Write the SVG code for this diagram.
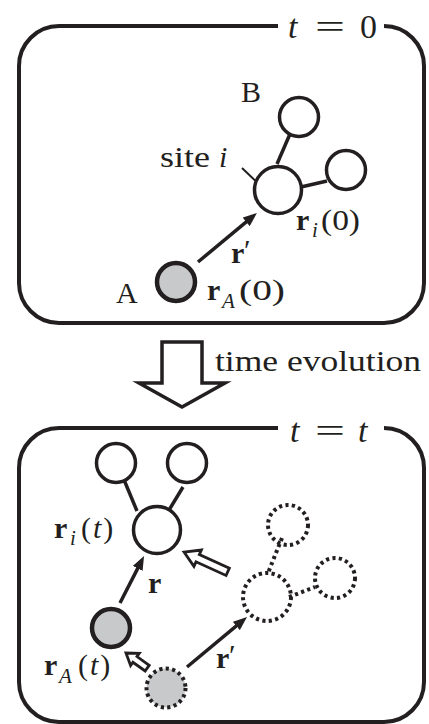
<svg xmlns="http://www.w3.org/2000/svg" width="429" height="724" viewBox="0 0 429 724">
<style>
.box{fill:none;stroke:#231f20;stroke-width:4}
.c{fill:#fff;stroke:#231f20;stroke-width:3.5}
.g{fill:#c8c9cb;stroke:#231f20;stroke-width:4.5}
.d{fill:none;stroke:#231f20;stroke-width:4;stroke-dasharray:3.2 3.3}
.dg{fill:#c8c9cb;stroke:#231f20;stroke-width:4;stroke-dasharray:3.2 3.3}
.b{stroke:#231f20;stroke-width:3.5;fill:none}
.bd{stroke:#231f20;stroke-width:4;fill:none;stroke-dasharray:3.2 3.3}
.ar{stroke:#231f20;stroke-width:3.5;fill:none;marker-end:url(#ah)}
.ha{fill:#fff;stroke:#231f20;stroke-width:2.8;stroke-linejoin:miter}
text{font-family:"Liberation Serif","Times New Roman",serif;fill:#231f20;font-size:30px}
.bf{font-weight:bold}
.it{font-style:italic}
.sub{font-size:21px;font-style:italic}
.big{font-size:34px}
.pr{font-size:30px}
</style>
<defs>
<marker id="ah" viewBox="0 0 14 11" refX="6" refY="5.5" markerWidth="14" markerHeight="11" markerUnits="userSpaceOnUse" orient="auto">
<path d="M0,0 L14,5.5 L0,11 z" fill="#231f20"/>
</marker>
</defs>

<g id="frame-t0">
<path class="box" d="M278,26 H59 A40,40 0 0 0 19,66 V283 A40,40 0 0 0 59,323 H384 A40,40 0 0 0 424,283 V66 A40,40 0 0 0 384,26"/>
<text class="big it" x="288" y="38">t</text>
<text class="big" x="315" y="38" textLength="30" lengthAdjust="spacingAndGlyphs">=</text>
<text class="big" x="360" y="38">0</text>
</g>

<g id="frame-tt">
<path class="box" d="M278,428 H59 A40,40 0 0 0 19,468 V682 A40,40 0 0 0 59,722 H384 A40,40 0 0 0 424,682 V468 A40,40 0 0 0 384,428"/>
<text class="big it" x="290" y="442">t</text>
<text class="big" x="315" y="442" textLength="30" lengthAdjust="spacingAndGlyphs">=</text>
<text class="big it" x="358" y="442">t</text>
</g>

<g id="connectors">
<line class="b" x1="293" y1="127" x2="277" y2="164"/>
<line class="b" x1="288" y1="190" x2="327" y2="181"/>
<line style="stroke:#231f20;stroke-width:2" x1="242" y1="168" x2="263" y2="188"/>
<line class="ar" x1="198" y1="262" x2="250.8" y2="218.1"/>
<line class="b" x1="122" y1="475" x2="137" y2="511"/>
<line class="b" x1="183" y1="487" x2="163" y2="520"/>
<line class="ar" x1="120" y1="603" x2="140.4" y2="563.1"/>
<line class="ar" x1="187" y1="667" x2="240.9" y2="622.1"/>
<line class="bd" x1="282" y1="538" x2="268" y2="573"/>
<line class="bd" x1="289" y1="597" x2="315" y2="587"/>
</g>

<g id="node-B-top"><circle class="c" cx="299" cy="117" r="19.5"/></g>
<g id="node-B-right"><circle class="c" cx="346" cy="170" r="19.5"/></g>
<g id="node-site-i"><circle class="c" cx="278" cy="190" r="23.5"/></g>
<g id="node-A"><circle class="g" cx="176" cy="282" r="19"/></g>

<g id="labels-top">
<text x="241" y="102">B</text>
<text x="160" y="167" textLength="50" lengthAdjust="spacingAndGlyphs">site</text>
<text class="it" x="219" y="167">i</text>
<text class="bf" x="296" y="230">r</text>
<text class="sub" x="312" y="237">i</text>
<text x="321" y="230" textLength="39" lengthAdjust="spacingAndGlyphs">(0)</text>
<text class="bf" x="231" y="263">r</text>
<text class="pr" x="244" y="260">′</text>
<text x="116" y="303">A</text>
<text class="bf" x="207" y="300">r</text>
<text class="sub" x="222" y="308">A</text>
<text x="239" y="300" textLength="46" lengthAdjust="spacingAndGlyphs">(0)</text>
</g>

<g id="time-evolution">
<polygon class="b" style="fill:#fff;stroke-width:3.5" points="162,342 202,342 202,383 225,383 182,407 139,383 162,383"/>
<text x="215" y="371" font-size="32" textLength="206" lengthAdjust="spacingAndGlyphs">time evolution</text>
</g>

<g id="node-Bt-left"><circle class="c" cx="116" cy="463" r="19.5"/></g>
<g id="node-Bt-right"><circle class="c" cx="187" cy="463" r="19.5"/></g>
<g id="node-site-i-t"><circle class="c" cx="157" cy="530" r="23.5"/></g>
<g id="node-A-t"><circle class="g" cx="111" cy="628" r="19"/></g>
<g id="node-A-0-ghost"><circle class="dg" cx="166" cy="688" r="19.5"/></g>
<g id="node-site-ghost"><circle class="d" cx="267" cy="597" r="24"/></g>
<g id="node-B-top-ghost"><circle class="d" cx="288" cy="525" r="20"/></g>
<g id="node-B-right-ghost"><circle class="d" cx="335" cy="578" r="20"/></g>

<g id="hollow-arrows">
<polygon class="ha" transform="translate(184,552) rotate(204.4)" points="0,0 -15,-9 -15,-4 -48,-4 -48,4 -15,4 -15,9"/>
<polygon class="ha" transform="translate(126,653) rotate(215.5)" points="0,0 -11,-7.5 -11,-3.5 -26,-3.5 -26,3.5 -11,3.5 -11,7.5"/>
</g>

<g id="labels-bottom">
<text class="bf" x="54" y="538">r</text>
<text class="sub" x="70" y="545">i</text>
<text x="81" y="538" letter-spacing="2">(<tspan class="it">t</tspan>)</text>
<text class="bf" x="148" y="593">r</text>
<text class="bf" x="44" y="675">r</text>
<text class="sub" x="59" y="683">A</text>
<text x="78" y="675" letter-spacing="2">(<tspan class="it">t</tspan>)</text>
<text class="bf" x="216" y="668">r</text>
<text class="pr" x="229" y="665">′</text>
</g>
</svg>
